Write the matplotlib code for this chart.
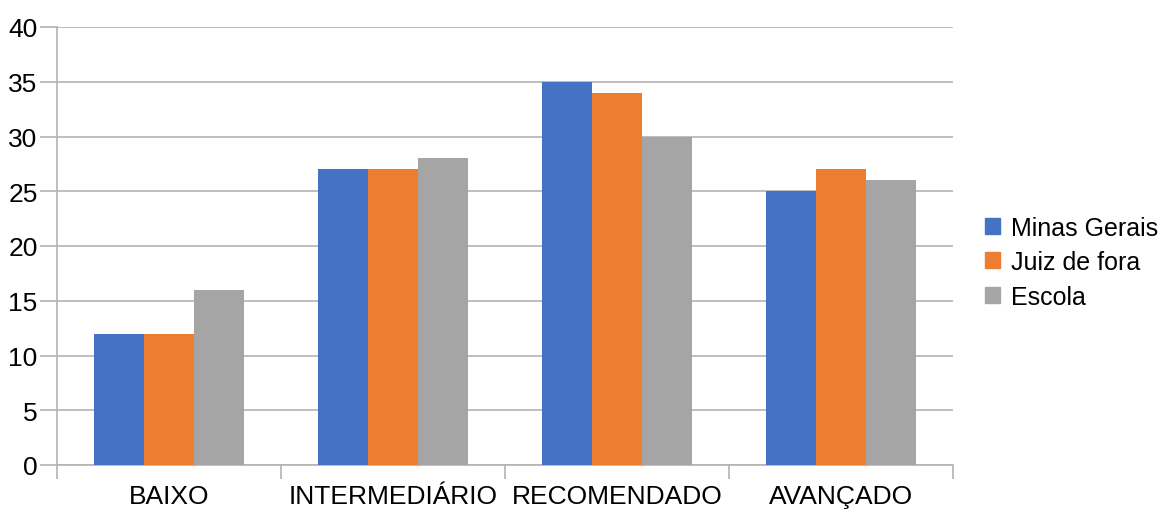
import numpy as np
import matplotlib.pyplot as plt
from matplotlib.patches import Patch

plt.rcParams['font.family'] = ['Liberation Sans', 'DejaVu Sans']

categories = ['BAIXO', 'INTERMEDIÁRIO', 'RECOMENDADO', 'AVANÇADO']
series_names = ['Minas Gerais', 'Juiz de fora', 'Escola']
minas_gerais = [12, 27, 35, 25]
juiz_de_fora = [12, 27, 34, 27]
escola = [16, 28, 30, 26]
colors = ['#4472C4', '#ED7D31', '#A5A5A5']

fig = plt.figure(figsize=(11.63, 5.10), dpi=100)
ax = fig.add_axes([57/1163, 44/510, 896/1163, 438/510])

x = np.arange(len(categories))
w = 0.222
for i, vals in enumerate([minas_gerais, juiz_de_fora, escola]):
    ax.bar(x + (i - 1) * w, vals, width=w, color=colors[i], zorder=3)

ax.set_xlim(-0.5, len(categories) - 0.5)
ax.set_ylim(0, 40)
ax.set_yticks(range(0, 41, 5))
ax.grid(axis='y', color='#b3b3b3', linewidth=1.2, zorder=0)

# category boundaries as major ticks, names as minor ticks
ax.set_xticks(np.arange(-0.5, len(categories), 1.0))
ax.set_xticklabels([])
ax.set_xticks(x, minor=True)
ax.set_xticklabels(categories, minor=True)
ax.tick_params(axis='x', which='major', length=10, color='#b3b3b3', width=1.2)
ax.tick_params(axis='x', which='minor', length=0, pad=14, labelsize=19)
ax.tick_params(axis='y', length=12, color='#b3b3b3', width=1.2, labelsize=19, pad=2)

for s in ['top', 'right']:
    ax.spines[s].set_visible(False)
for s in ['left', 'bottom']:
    ax.spines[s].set_color('#b3b3b3')
    ax.spines[s].set_linewidth(1.2)

handles = [Patch(color=c, label=n) for c, n in zip(colors, series_names)]
fig.legend(handles=handles, loc='center left', bbox_to_anchor=(0.838, 0.484),
           frameon=False, fontsize=18, handlelength=0.6, handleheight=0.6,
           handletextpad=0.45, labelspacing=0.42, borderaxespad=0)

fig.savefig('out.png', dpi=100)
